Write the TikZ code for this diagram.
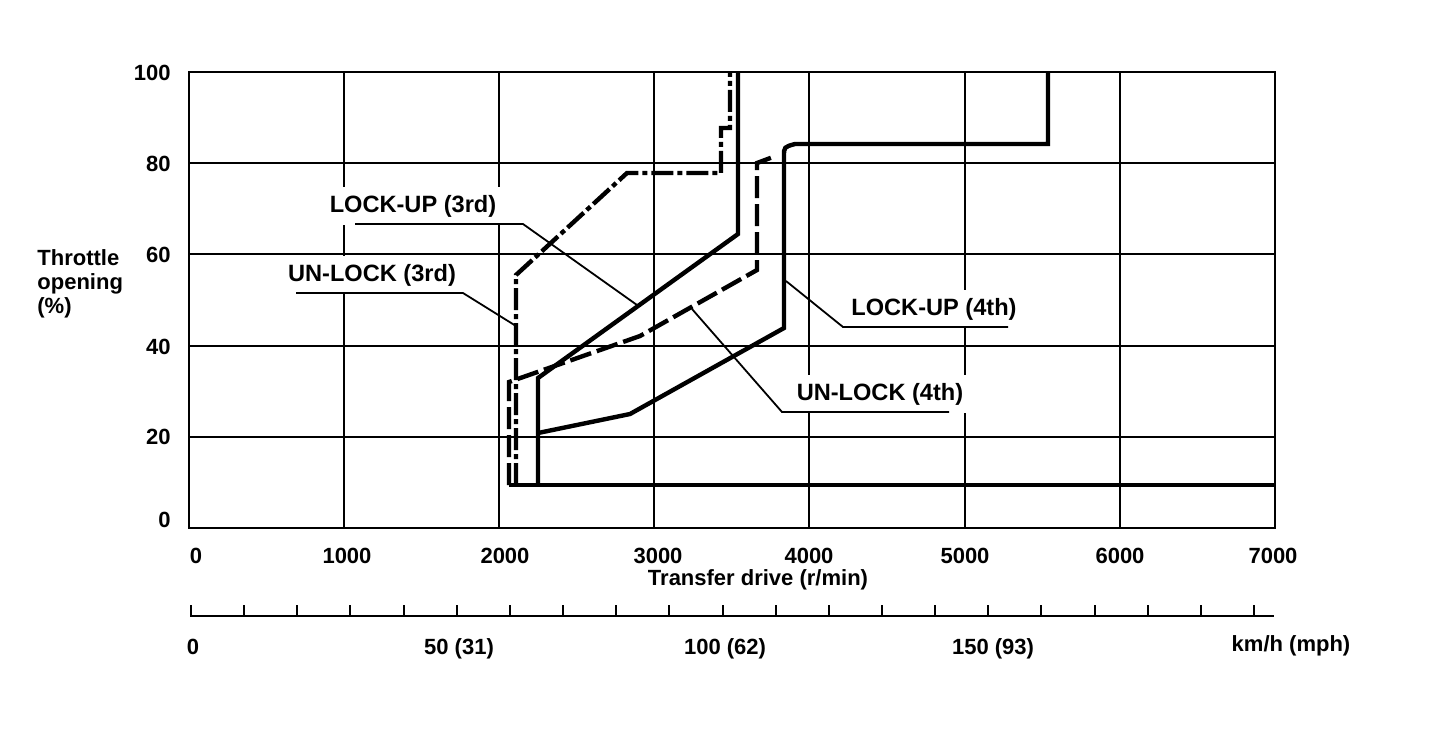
\documentclass[tikz,border=0pt]{standalone}
\usepackage{fontspec}
\setmainfont{Liberation Sans}
\begin{document}
\begin{tikzpicture}[x=0.5pt,y=-0.5pt,
  font=\fontsize{11}{12}\selectfont\bfseries,
  gridline/.style={line width=1.1pt,line cap=rect},
  lockline/.style={line width=2.2pt,line join=miter},
  unlockthree/.style={line width=2.2pt,dash pattern=on 11pt off 2pt on 2.5pt off 2pt},
  unlockfour/.style={line width=2.2pt,dash pattern=on 11pt off 3pt},
  leader/.style={line width=0.9pt},
  lbl/.style={fill=white,inner xsep=2pt,inner ysep=4pt,anchor=base,font=\fontsize{11.8}{13}\selectfont\bfseries},
  tickline/.style={line width=1pt},
  ticklbl/.style={inner sep=0pt}]
\useasboundingbox (0,0) rectangle (1456,736);
% grid
\draw[gridline] (189,72) rectangle (1275,528);
\foreach \x in {344,499,654,809,965,1120} \draw[gridline] (\x,72) -- (\x,528);
\foreach \y in {437,346,254,163} \draw[gridline] (189,\y) -- (1275,\y);
% labels (white boxes interrupt grid)
\node[lbl] (lu3) at (413,212) {LOCK-UP (3rd)};
\node[lbl] (ul3) at (372,281) {UN-LOCK (3rd)};
\node[lbl] (lu4) at (934,315) {LOCK-UP (4th)};
\node[lbl] (ul4) at (880,400) {UN-LOCK (4th)};
% leaders
\coordinate (a1) at (355,224); \coordinate (a2) at (523,224); \coordinate (a3) at (637,305);
\coordinate (b1) at (296,293); \coordinate (b2) at (463,293); \coordinate (b3) at (516,326);
\coordinate (c1) at (786,281); \coordinate (c2) at (843,327); \coordinate (c3) at (1008,327);
\coordinate (d1) at (692,309); \coordinate (d2) at (782,412); \coordinate (d3) at (949,412);
\draw[leader] (a1) -- (a2) -- (a3);
\draw[leader] (b1) -- (b2) -- (b3);
\draw[leader] (c3) -- (c2) -- (c1);
\draw[leader] (d3) -- (d2) -- (d1);
% curves
\draw[lockline] (509,485) -- (1275,485);
\draw[unlockfour] (509,485) -- (509,382) -- (640,336) -- (757,270) -- (757,163) -- (773,157);
\draw[unlockthree] (516,485) -- (516,275) -- (627,173) -- (721,173) -- (721,128) -- (730,128) -- (730,72);
\draw[lockline] (538,485) -- (538,378) -- (738,234) -- (738,72);
\draw[lockline] (538,433) -- (630,414) -- (784,328) -- (784,156) .. controls (784,147) .. (795,144) -- (1048,144) -- (1048,72);
% y tick labels
\node[ticklbl,anchor=east] (y100) at (171,73) {100};
\node[ticklbl,anchor=east] (y80) at (171,164) {80};
\node[ticklbl,anchor=east] (y60) at (171,255) {60};
\node[ticklbl,anchor=east] (y40) at (171,347) {40};
\node[ticklbl,anchor=east] (y20) at (171,437) {20};
\node[ticklbl,anchor=east] (y0) at (171,520) {0};
% y title
\node[ticklbl,anchor=base west] (yt1) at (37,265) {Throttle};
\node[ticklbl,anchor=base west] (yt2) at (37,289) {opening};
\node[ticklbl,anchor=base west] (yt3) at (37,313) {(\%)};
% x tick labels
\node[ticklbl] (x0) at (196,556) {0};
\node[ticklbl] (x1) at (347,556) {1000};
\node[ticklbl] (x2) at (505,556) {2000};
\node[ticklbl] (x3) at (658,556) {3000};
\node[ticklbl] (x4) at (809,556) {4000};
\node[ticklbl] (x5) at (965,556) {5000};
\node[ticklbl] (x6) at (1120,556) {6000};
\node[ticklbl] (x7) at (1273,556) {7000};
\node[ticklbl] (xt) at (758,580) {Transfer drive (r/min)};
% km/h axis
\draw[tickline] (190,616) -- (1274,616);
\foreach \k in {0,...,20} \draw[tickline] ({191+53.15*\k},616) -- ++(0,-11);
\node[ticklbl,anchor=base] (k0) at (193,654) {0};
\node[ticklbl,anchor=base] (k50) at (459,654) {50 (31)};
\node[ticklbl,anchor=base] (k100) at (725,654) {100 (62)};
\node[ticklbl,anchor=base] (k150) at (993,654) {150 (93)};
\node[ticklbl,anchor=base] (kt) at (1291,651) {km/h (mph)};
\end{tikzpicture}
\end{document}
